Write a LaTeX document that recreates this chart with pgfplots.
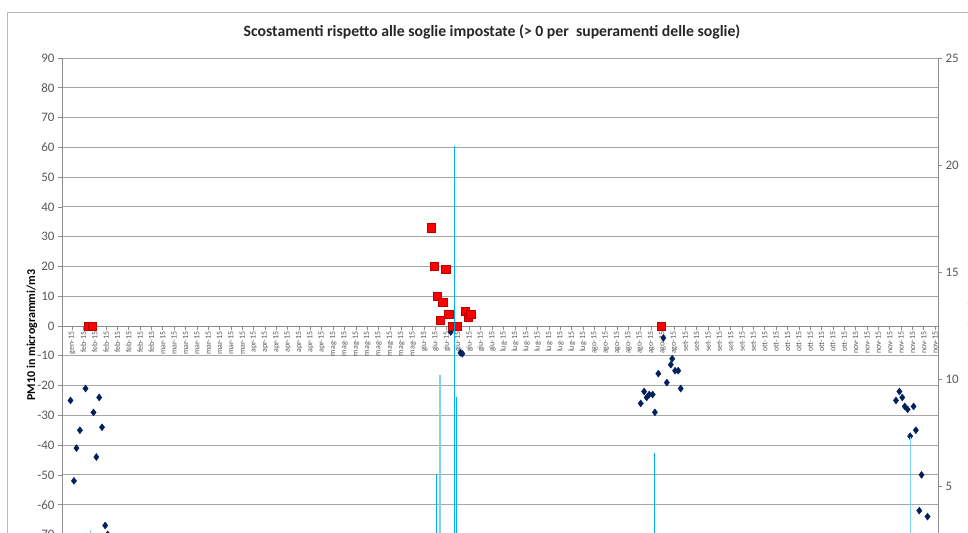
\documentclass[border=0pt]{standalone}
\usepackage{pgfplots}
\pgfplotsset{compat=1.18}
\usepackage{fontspec}
\setmainfont{Carlito}
\definecolor{navy}{HTML}{002060}
\definecolor{gridgray}{HTML}{A6A6A6}
\definecolor{axgray}{HTML}{8C8C8C}
\definecolor{lblgray}{HTML}{595959}
\definecolor{cyanbar}{HTML}{00B0F0}
\definecolor{paleBar}{HTML}{7DD3F7}
\definecolor{redsq}{HTML}{FF0000}
\begin{document}
\begin{tikzpicture}[x=1bp,y=1bp]
\useasboundingbox (0,0) rectangle (968,-533);
\draw[gray!55, line width=0.8bp] (7,-540) -- (7,-12) -- (975,-12);
\node[font=\bfseries\fontsize{15.8}{18}\selectfont, text=black!85] at (492,-32) {Scostamenti rispetto alle soglie impostate (> 0 per\ \ superamenti delle soglie)};
\node[font=\bfseries\fontsize{12}{14}\selectfont, rotate=90, text=black] at (32,-335) {PM10 in microgrammi/m3};
\node[font=\fontsize{12}{14}\selectfont, rotate=90, text=lblgray] at (973,-325) {nr. giorni};
\begin{axis}[
  at={(62bp,-594bp)}, anchor=south west, scale only axis,
  width=876bp, height=536bp,
  xmin=26.5, xmax=335, ymin=-90, ymax=90,
  axis x line=middle, axis y line=left,
  hide obscured x ticks=false, hide obscured y ticks=false,
  axis line style={axgray, line width=0.8bp, -},
  ytick={-90,-80,...,90},
  ymajorgrids, grid style={gridgray, line width=0.8bp},
  major tick length=4bp, tick align=outside,
  tick style={axgray, line width=0.7bp},
  /pgf/number format/assume math mode=true,
  yticklabel style={font=\fontsize{13}{14}\selectfont, text=lblgray},
  xtick={30,34,...,334},
  xticklabels={gen-15,
    feb-15,feb-15,feb-15,feb-15,feb-15,feb-15,feb-15,
    mar-15,mar-15,mar-15,mar-15,mar-15,mar-15,mar-15,mar-15,
    apr-15,apr-15,apr-15,apr-15,apr-15,apr-15,apr-15,
    mag-15,mag-15,mag-15,mag-15,mag-15,mag-15,mag-15,mag-15,
    giu-15,giu-15,giu-15,giu-15,giu-15,giu-15,giu-15,
    lug-15,lug-15,lug-15,lug-15,lug-15,lug-15,lug-15,lug-15,
    ago-15,ago-15,ago-15,ago-15,ago-15,ago-15,ago-15,ago-15,
    set-15,set-15,set-15,set-15,set-15,set-15,set-15,
    ott-15,ott-15,ott-15,ott-15,ott-15,ott-15,ott-15,ott-15,
    nov-15,nov-15,nov-15,nov-15,nov-15,nov-15,nov-15,nov-15},
  xticklabel style={rotate=90, anchor=east, font=\fontsize{8}{9}\selectfont, text=lblgray, inner sep=1.5bp},
  clip=true,
]
% scostamenti (diamonds)
\addplot[only marks, mark=diamond*, mark size=3.5bp, color=navy, mark options={fill=navy, draw=navy}] coordinates {
 (29.5,-25) (30.7,-52) (31.6,-41) (32.8,-35) (34.8,-21) (37.6,-29) (38.6,-44)
 (39.6,-24) (40.6,-34) (41.7,-67) (42.6,-70)
 (163.4,-2) (166.8,-9) (167.5,-9.3)
 (230.3,-26) (231.5,-22) (232.4,-24) (233.3,-23) (234.5,-23) (235.3,-29)
 (236.5,-16) (238.3,-4) (239.5,-19) (240.9,-13) (241.4,-11) (242.4,-15)
 (243.5,-15) (244.4,-21)
 (320.2,-25) (321.4,-22) (322.4,-24) (323.3,-27) (324.3,-28) (325.2,-37)
 (326.4,-27) (327.2,-35) (328.4,-62) (329.2,-50) (331.3,-64)
};
% superamenti (red squares)
\addplot[only marks, mark=square*, mark size=4.1bp, mark options={fill=redsq, draw=red!75!black, line width=0.4bp}] coordinates {
 (35.6,0) (37.0,0)
 (156.5,33) (157.6,20) (158.7,10) (159.6,2) (160.6,8) (161.6,19) (162.7,4)
 (164.1,0) (165.7,0) (168.5,5) (169.6,3) (170.4,4)
 (237.5,0)
};
\end{axis}
\begin{axis}[
  at={(62bp,-594bp)}, anchor=south west, scale only axis,
  width=876bp, height=536bp,
  xmin=26.5, xmax=335, ymin=0, ymax=25,
  axis x line=none, axis y line*=right,
  axis line style={axgray, line width=0.8bp, -},
  ytick={0,5,...,25},
  major tick length=4bp, tick align=outside,
  tick style={axgray, line width=0.7bp},
  /pgf/number format/assume math mode=true,
  yticklabel style={font=\fontsize{13}{14}\selectfont, text=lblgray},
]
\addplot[ycomb, color=paleBar, line width=1.1bp] coordinates {
 (36.4,3.0) (159.6,10.2) (325.2,7.3)
};
\addplot[ycomb, color=cyanbar, line width=1.1bp] coordinates {
 (158.4,5.6) (164.66,20.9) (165.5,9.2) (235.3,6.6)
};
\end{axis}
\end{tikzpicture}
\end{document}
